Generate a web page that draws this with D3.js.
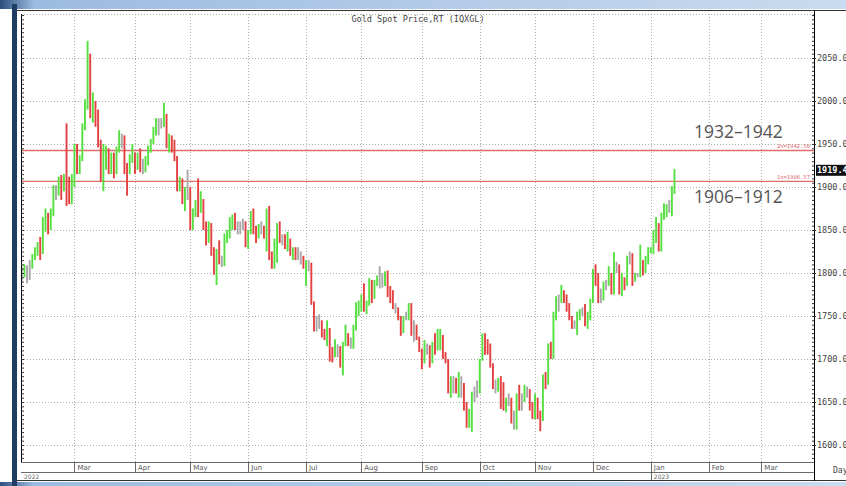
<!DOCTYPE html>
<html>
<head>
<meta charset="utf-8">
<script src="https://cdn.jsdelivr.net/npm/d3@7"></script>
<style>
  body { margin: 0; background: #fff; }
  svg { display: block; }
</style>
</head>
<body>
<div id="chart"></div>
<script>
// daily bars from 1 Feb 2022 (weekdays), one row per month
const highs = [
  1807,1810,1809,1815,1822,1830,1836,1842,1865,1875,1870,1875,1902,1902,1912,1914,1915,1974,1912,1915,
  1950,1950,1937,1974,2002,2070,2055,2010,2000,1990,1955,1950,1948,1945,1940,1940,1947,1966,1962,1960,1928,1938,1950,
  1940,1940,1945,1933,1936,1948,1956,1970,1980,1980,1980,1998,1985,1962,1960,1955,1936,1912,1910,1900,1920,
  1900,1875,1885,1910,1895,1886,1860,1860,1858,1830,1828,1838,1820,1846,1850,1865,1868,1870,1860,1860,1863,1860,
  1850,1872,1875,1855,1857,1860,1855,1875,1878,1825,1840,1858,1860,1845,1845,1848,1840,1830,1830,1830,1825,1820,
  1815,1815,1812,1767,1750,1752,1745,1735,1745,1736,1714,1723,1717,1715,1720,1740,1730,1725,1740,1766,1768,
  1775,1788,1768,1794,1792,1792,1797,1808,1800,1802,1803,1785,1780,1765,1760,1750,1750,1755,1765,1765,1745,1740,1726,
  1712,1722,1718,1716,1720,1730,1735,1735,1728,1708,1700,1680,1680,1678,1685,1680,1672,1650,1642,1662,1668,1675,
  1700,1730,1730,1723,1718,1695,1676,1678,1680,1673,1655,1660,1655,1640,1660,1670,1660,1670,1668,1665,1650,
  1660,1655,1640,1682,1685,1718,1720,1755,1773,1775,1786,1780,1775,1765,1750,1745,1755,1758,1760,1764,1755,1770,
  1805,1810,1800,1782,1790,1792,1808,1800,1824,1813,1810,1800,1795,1820,1825,1823,1800,1800,1833,1815,1820,1830,
  1830,1850,1865,1858,1870,1881,1880,1885,1901,1921
];
const lows = [
  1790,1795,1788,1792,1805,1815,1820,1815,1822,1848,1845,1850,1866,1885,1890,1885,1895,1878,1880,1880,
  1900,1915,1915,1930,1966,1990,1980,1975,1970,1946,1906,1895,1920,1915,1915,1910,1915,1940,1945,1915,1890,1915,1928,
  1915,1920,1917,1915,1917,1925,1940,1950,1960,1960,1968,1970,1945,1940,1940,1930,1895,1895,1880,1872,1885,
  1850,1850,1865,1865,1870,1850,1832,1835,1820,1798,1786,1810,1807,1808,1835,1840,1850,1850,1845,1845,1850,1830,
  1828,1845,1845,1835,1840,1845,1840,1825,1815,1805,1805,1812,1835,1832,1828,1825,1820,1815,1815,1815,1810,1805,
  1785,1802,1763,1732,1732,1735,1725,1722,1715,1697,1696,1702,1702,1690,1681,1715,1715,1712,1712,1733,1750,
  1755,1755,1752,1762,1765,1770,1785,1782,1783,1785,1772,1765,1758,1753,1745,1727,1730,1745,1745,1727,1720,1722,1708,
  1688,1695,1705,1690,1695,1705,1710,1710,1700,1695,1660,1655,1660,1660,1655,1655,1640,1620,1620,1615,1650,1655,
  1660,1698,1705,1705,1690,1665,1660,1662,1642,1640,1638,1645,1625,1618,1618,1640,1640,1650,1655,1640,1630,
  1630,1630,1616,1628,1665,1670,1700,1700,1745,1755,1765,1765,1755,1745,1735,1735,1728,1745,1750,1738,1735,1745,
  1765,1785,1765,1765,1768,1780,1785,1775,1775,1800,1775,1773,1780,1785,1810,1785,1790,1795,1795,1797,1800,1810,
  1823,1822,1835,1825,1825,1862,1865,1870,1866,1892
];
const closes = [
  1801,1807,1805,1808,1820,1826,1833,1827,1859,1870,1853,1871,1898,1898,1906,1898,1910,1903,1889,1908,
  1943,1922,1935,1970,1998,2050,1993,2000,1988,1952,1917,1927,1943,1921,1935,1921,1944,1958,1958,1923,1919,1933,1937,
  1925,1933,1923,1925,1931,1945,1954,1966,1977,1974,1975,1979,1950,1958,1951,1931,1898,1905,1885,1894,1896,
  1863,1868,1881,1876,1883,1854,1838,1852,1821,1811,1824,1815,1815,1841,1846,1853,1866,1853,1851,1853,1856,1837,
  1848,1869,1850,1841,1852,1853,1848,1871,1819,1808,1834,1857,1840,1839,1832,1838,1822,1827,1823,1820,1817,1807,
  1811,1808,1764,1737,1740,1742,1733,1725,1735,1711,1703,1709,1711,1696,1718,1727,1719,1717,1735,1756,1766,
  1772,1760,1765,1791,1775,1789,1794,1792,1789,1802,1779,1775,1761,1758,1747,1736,1748,1751,1758,1737,1738,1723,1711,
  1697,1712,1710,1702,1718,1708,1716,1724,1702,1697,1665,1675,1675,1664,1673,1671,1644,1622,1628,1660,1660,1661,
  1699,1725,1716,1712,1695,1668,1666,1673,1666,1644,1650,1652,1629,1627,1657,1649,1652,1665,1663,1645,1633,
  1647,1635,1630,1681,1676,1712,1706,1755,1771,1772,1778,1774,1761,1751,1738,1740,1749,1755,1754,1741,1749,1768,
  1803,1797,1768,1771,1786,1789,1797,1781,1810,1807,1777,1792,1787,1817,1814,1792,1797,1798,1814,1804,1815,1824,
  1829,1839,1855,1833,1865,1872,1877,1876,1897,1919.4
];

const priceTicks = [1600, 1650, 1700, 1750, 1800, 1850, 1900, 1950, 2000, 2050];
const monthNames = ["Jan","Feb","Mar","Apr","May","Jun","Jul","Aug","Sep","Oct","Nov","Dec"];
const levels = [
  { value: 1942.50, label: "2x=1942.50" },
  { value: 1906.57, label: "1x=1906.57" }
];
const zones = ["1932\u20131942", "1906\u20131912"];

const W = 846, H = 486;
const plot = { left: 21, right: 814, top: 14, bottom: 462 };

// weekday calendar: the time axis of the chart
const days = d3.utcDay.range(new Date(Date.UTC(2022, 1, 1)), new Date(Date.UTC(2023, 3, 1)))
  .filter(d => d.getUTCDay() % 6 !== 0);

const x = d3.scaleLinear().domain([-0.3, 301]).range([plot.left, plot.right]);
const y = d3.scaleLinear().domain([1600, 2050]).range([445, 58]);

const svg = d3.select("#chart").append("svg").attr("width", W).attr("height", H);

// window frame
const grad = svg.append("defs").append("linearGradient").attr("id", "bar")
  .attr("x1", 0).attr("x2", 1).attr("y1", 0).attr("y2", 0);
grad.append("stop").attr("offset", "0%").attr("stop-color", "#2b4f7e");
grad.append("stop").attr("offset", "4%").attr("stop-color", "#9dbbe0");
grad.append("stop").attr("offset", "100%").attr("stop-color", "#c9dbef");
svg.append("rect").attr("x", 0).attr("y", 0).attr("width", W).attr("height", 9).attr("fill", "url(#bar)");
svg.append("rect").attr("x", 0).attr("y", 482).attr("width", W).attr("height", 4).attr("fill", "url(#bar)");
svg.append("rect").attr("x", 12).attr("y", 4).attr("width", 5).attr("height", 482).attr("fill", "#1f3c63");
svg.append("line").attr("x1", 17).attr("x2", W).attr("y1", 10.5).attr("y2", 10.5).attr("stroke", "#333");
svg.append("line").attr("x1", 17).attr("x2", W).attr("y1", 480.5).attr("y2", 480.5).attr("stroke", "#333");

// grid
const grid = svg.append("g").attr("stroke", "#9a9a9a").attr("stroke-dasharray", "1,2").attr("stroke-width", 0.8);
grid.selectAll("line.h").data(priceTicks).join("line")
  .attr("x1", plot.left).attr("x2", plot.right)
  .attr("y1", d => Math.round(y(d)) + 0.5).attr("y2", d => Math.round(y(d)) + 0.5);
grid.append("line").attr("x1", plot.left).attr("x2", plot.right).attr("y1", plot.top + 0.5).attr("y2", plot.top + 0.5);

const monthStarts = days.map((d, i) => ({ d, i }))
  .filter((o, k, a) => k > 0 && o.d.getUTCMonth() !== a[k - 1].d.getUTCMonth());
grid.selectAll("line.v").data(monthStarts).join("line")
  .attr("x1", o => Math.round(x(o.i)) + 0.5).attr("x2", o => Math.round(x(o.i)) + 0.5)
  .attr("y1", plot.top).attr("y2", plot.bottom);

// level lines
svg.selectAll("line.lvl").data(levels).join("line")
  .attr("x1", plot.left).attr("x2", plot.right)
  .attr("y1", d => y(d.value)).attr("y2", d => y(d.value))
  .attr("stroke", "#e06c6c").attr("stroke-width", 1.4);
svg.selectAll("text.lvl").data(levels).join("text")
  .attr("x", plot.right - 4).attr("y", d => y(d.value) - 2.5)
  .attr("text-anchor", "end").attr("fill", "#e06c6c")
  .style("font", "5.5px 'DejaVu Sans Mono', monospace")
  .text(d => d.label);

// price bars
const bars = svg.append("g");
closes.forEach((c, i) => {
  const prev = i > 0 ? closes[i - 1] : c;
  const diff = c - prev;
  const col = diff > 3 ? "#55df40" : diff < -3 ? "#e34040" : "#a8a8a8";
  bars.append("line")
    .attr("x1", x(i)).attr("x2", x(i))
    .attr("y1", y(highs[i])).attr("y2", y(lows[i]))
    .attr("stroke", col).attr("stroke-width", 1.9);
});

// left and right rulers
const minor = d3.range(1585, 2105, 5);
svg.append("g").attr("transform", `translate(${plot.left},0)`)
  .call(d3.axisRight(y).tickValues(minor).tickSize(3).tickFormat(""))
  .call(g => g.select(".domain").attr("d", `M0.5,${plot.top}V${plot.bottom}`))
  .call(g => g.selectAll("line").attr("stroke", "#333"));
svg.append("g").attr("transform", `translate(${plot.right},0)`)
  .call(d3.axisLeft(y).tickValues(minor).tickSize(2).tickFormat(""))
  .call(g => g.select(".domain").attr("d", `M0.5,11V481`))
  .call(g => g.selectAll("line").attr("stroke", "#333"));
svg.append("g").attr("transform", `translate(${plot.right},0)`)
  .call(d3.axisRight(y).tickValues(priceTicks).tickSize(2).tickPadding(1).tickFormat(d => d.toFixed(1)))
  .call(g => g.select(".domain").remove())
  .call(g => g.selectAll("line").attr("stroke", "#333"))
  .call(g => g.selectAll("text").attr("fill", "#444").style("font", "8.5px 'DejaVu Sans Mono', monospace"));

// last price marker
const last = closes[closes.length - 1];
svg.append("rect").attr("x", plot.right + 2).attr("y", y(last) - 5.5).attr("width", 40).attr("height", 11).attr("fill", "#111");
svg.append("text").attr("x", plot.right + 3).attr("y", y(last) + 3)
  .attr("fill", "#fff").style("font", "bold 8.5px 'DejaVu Sans Mono', monospace")
  .text(last.toFixed(1));

// date axis rows
const dateAxis = svg.append("g").attr("stroke", "#444").attr("stroke-width", 0.8);
[plot.bottom, 472].forEach(v => dateAxis.append("line")
  .attr("x1", plot.left).attr("x2", plot.right).attr("y1", v + 0.5).attr("y2", v + 0.5));
dateAxis.selectAll("line.m").data(monthStarts).join("line")
  .attr("x1", o => Math.round(x(o.i)) + 0.5).attr("x2", o => Math.round(x(o.i)) + 0.5)
  .attr("y1", plot.bottom).attr("y2", 472);
svg.selectAll("text.m").data(monthStarts.filter(o => o.i > 0)).join("text")
  .attr("x", o => x(o.i) + 3).attr("y", 470)
  .attr("fill", "#555").style("font", "7px 'DejaVu Sans', sans-serif")
  .text(o => monthNames[o.d.getUTCMonth()]);
const yearStarts = [{ label: "2022", i: -0.3 }].concat(
  monthStarts.filter(o => o.d.getUTCMonth() === 0).map(o => ({ label: String(o.d.getUTCFullYear()), i: o.i })));
svg.selectAll("text.yr").data(yearStarts).join("text")
  .attr("x", o => x(o.i) + 3).attr("y", 478.5)
  .attr("fill", "#666").style("font", "6px 'DejaVu Sans', sans-serif")
  .text(o => o.label);
svg.selectAll("line.yr").data(yearStarts.slice(1)).join("line")
  .attr("x1", o => Math.round(x(o.i)) + 0.5).attr("x2", o => Math.round(x(o.i)) + 0.5)
  .attr("y1", 472).attr("y2", 480).attr("stroke", "#444").attr("stroke-width", 0.8);
svg.append("text").attr("x", 833).attr("y", 473).attr("fill", "#444")
  .style("font", "8px 'DejaVu Sans Mono', monospace").text("Day");

// title
svg.append("text").attr("x", 418).attr("y", 22).attr("text-anchor", "middle")
  .attr("fill", "#444").style("font", "8.5px 'DejaVu Sans Mono', monospace")
  .text("Gold Spot Price,RT (IQXGL)");

// zone annotations
svg.selectAll("text.zone").data(zones).join("text")
  .attr("x", 694).attr("y", (d, k) => k === 0 ? 138 : 203)
  .attr("fill", "#555").style("font", "17.5px 'Open Sans', sans-serif")
  .text(d => d);
</script>
</body>
</html>
